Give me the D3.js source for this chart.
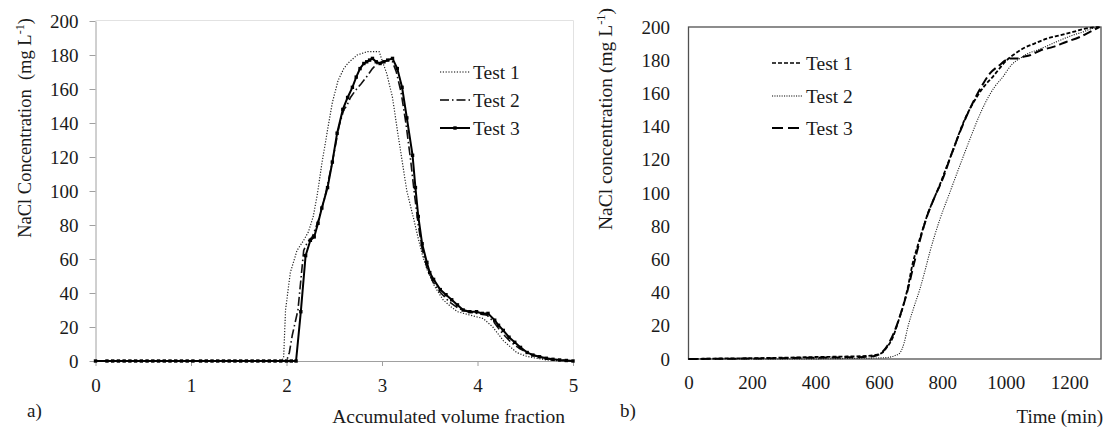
<!DOCTYPE html>
<html><head><meta charset="utf-8">
<script src="https://cdn.jsdelivr.net/npm/d3@7"></script>
<style>
body{margin:0;background:#fff;}
svg text{font-family:"Liberation Serif","Times New Roman",Tinos,"DejaVu Serif","Noto Serif",serif !important;fill:#1a1a1a;}
</style></head>
<body><svg id="c" width="1109" height="432"></svg>
<script>
const FONT = '"Liberation Serif","Times New Roman",Tinos,"DejaVu Serif",serif';
// ---------- Panel a) data ----------
const aXTicks = [0,1,2,3,4,5];
const aYTicks = [0,20,40,60,80,100,120,140,160,180,200];
const aT1x = [0,0.5,1,1.5,1.95,1.97,1.99,2.04,2.11,2.18,2.23,2.28,2.32,2.37,2.43,2.48,2.54,2.6,2.64,2.74,2.85,2.97,3.0,3.05,3.11,3.16,3.21,3.26,3.33,3.38,3.42,3.47,3.55,3.64,3.72,3.79,3.92,4.06,4.16,4.27,4.35,4.41,4.5,4.58,4.7,4.79,4.9,5.0];
const aT1y = [0,0,0,0,0,2,30,52,65,71,76,85,97,116,136,152,165,172,175,180,182,182,177,169,155,136,118,100,84,72,63,54,44,36,32,29,27,25,20,12,8,5,3,2,0.8,0.3,0,0];
const aT2x = [0,0.5,1,1.5,2.0,2.03,2.06,2.12,2.18,2.22,2.27,2.33,2.4,2.48,2.55,2.6,2.63,2.67,2.72,2.78,2.85,2.9,2.95,3.0,3.06,3.11,3.15,3.2,3.25,3.3,3.34,3.38,3.42,3.47,3.53,3.6,3.7,3.8,3.9,4.0,4.1,4.17,4.25,4.35,4.45,4.55,4.7,4.85,5.0];
const aT2y = [0,0,0,0,0,5,15,30,65,70,73,82,96,117,138,148,150,155,159,163,168,172,175,176,177,176,170,158,140,118,98,80,66,55,47,41,35,31,29,28,27,23,17,11,7,4,1.5,0.5,0];
const aT3x = [0,0.12,0.18,0.24,0.3,0.36,0.42,0.48,0.54,0.6,0.66,0.72,0.78,0.84,0.9,0.96,1.02,1.1,1.16,1.22,1.28,1.34,1.4,1.46,1.52,1.58,1.64,1.7,1.76,1.82,1.88,1.94,2.0,2.05,2.1,2.15,2.2,2.25,2.29,2.33,2.37,2.43,2.48,2.53,2.59,2.64,2.69,2.73,2.77,2.81,2.84,2.87,2.9,2.94,2.98,3.02,3.06,3.11,3.16,3.21,3.26,3.32,3.35,3.38,3.42,3.47,3.5,3.54,3.61,3.67,3.73,3.79,3.85,3.92,3.99,4.05,4.11,4.18,4.22,4.27,4.33,4.39,4.45,4.52,4.58,4.65,4.72,4.79,4.86,4.93,5.0];
const aT3y = [0,0,0,0,0,0,0,0,0,0,0,0,0,0,0,0,0,0,0,0,0,0,0,0,0,0,0,0,0,0,0,0,0,0,0,29,62,71,73,81,90,102,117,134,148,155,161,167,172,175,176,177,178,176,175,176,177,178,172,161,143,121,102,85,69,58,52,48,42,39,36,33,30,29,29,28,28,24,21,18,14,11,8,5,3.5,2.5,1.6,1,0.6,0.3,0];

// ---------- Panel b) data ----------
const bXTicks = [0,200,400,600,800,1000,1200];
const bYTicks = [0,20,40,60,80,100,120,140,160,180,200];
const bT1x = [0,100,200,300,400,500,560,590,609,625,644,660,675,690,707,722,738,755,770,790,814,838,861,885,909,935,959,980,1003,1030,1054,1090,1129,1170,1211,1250,1292];
const bT1y = [0,0.3,0.5,0.8,1.2,1.5,1.8,2.5,3.6,7,13,22,31,42,58,68,78,88,95,104,116,128,140,150,158,165,170,175,180,184,187,190,193,195,197,199,200];
const bT2x = [0,300,500,620,650,666,680,691,710,729,745,760,792,823,860,886,913,940,965,991,1017,1044,1070,1098,1135,1171,1210,1243,1270,1297];
const bT2y = [0,0,0.3,0.8,2,3.6,10,19,31,42,53,64,84,100,119,132,145,156,164,170,177,181,184,186,189,192,195,197,199,200];
const bT3x = [0,200,400,550,590,610,630,650,670,690,710,730,750,770,800,830,860,890,920,950,980,1000,1015,1035,1055,1076,1110,1149,1190,1233,1265,1295];
const bT3y = [0,0.3,0.8,1.2,2,4,9,17,28,41,57,72,85,95,108,124,139,152,163,172,177,180,181,181,182,183,186,188,191,194,197,200];

const svg = d3.select("#c");
const zip = (xs, ys) => xs.map((x,i)=>[x, ys[i]]);
const fmt = d => String(d);

// ---------- Panel a ----------
const xA = d3.scaleLinear().domain([0,5]).range([95.5,573]);
const yA = d3.scaleLinear().domain([0,200]).range([361,21]);
const gA = svg.append("g");

gA.append("path").attr("d",`M${xA(0)},20.5 H573.5 V${yA(0)}`).attr("fill","none").attr("stroke","#e2e2e2");

const axA_y = gA.append("g").attr("transform",`translate(${xA(0)},0)`)
  .call(d3.axisLeft(yA).tickValues(aYTicks).tickFormat(fmt).tickSize(6).tickPadding(11).tickSizeOuter(0));
const axA_x = gA.append("g").attr("transform",`translate(0,${yA(0)})`)
  .call(d3.axisBottom(xA).tickValues(aXTicks).tickFormat(fmt).tickSize(5).tickPadding(13).tickSizeOuter(0));
[axA_y, axA_x].forEach(a=>{
  a.attr("font-family",FONT);
  a.selectAll("path,line").attr("stroke","#a0a0a0");
  a.selectAll("text").style("font-size","19px").attr("fill","#1a1a1a");
});

const lineA = d3.line().x(d=>xA(d[0])).y(d=>yA(d[1]));
gA.append("path").datum(zip(aT1x,aT1y)).attr("d",lineA).attr("fill","none")
  .attr("stroke","#222").attr("stroke-width",1.2).attr("stroke-dasharray","1.2,1.6");
gA.append("path").datum(zip(aT2x,aT2y)).attr("d",lineA).attr("fill","none")
  .attr("stroke","#111").attr("stroke-width",1.6).attr("stroke-dasharray","9,3,1.5,3");
gA.append("path").datum(zip(aT3x,aT3y)).attr("d",lineA).attr("fill","none")
  .attr("stroke","#000").attr("stroke-width",2);
gA.selectAll("rect.m3").data(zip(aT3x,aT3y)).join("rect").attr("class","m3")
  .attr("x",d=>xA(d[0])-1.7).attr("y",d=>yA(d[1])-1.7).attr("width",3.4).attr("height",3.4).attr("fill","#000");

const legA = [{n:"Test 1",dash:"1.2,1.6",w:1.2,y:72},{n:"Test 2",dash:"9,3,1.5,3",w:1.6,y:100},{n:"Test 3",dash:null,w:2,y:128}];
legA.forEach(l=>{
  gA.append("line").attr("x1",440).attr("x2",470).attr("y1",l.y).attr("y2",l.y)
    .attr("stroke","#000").attr("stroke-width",l.w).attr("stroke-dasharray",l.dash);
  if(!l.dash) gA.append("rect").attr("x",453.3).attr("y",l.y-1.7).attr("width",3.4).attr("height",3.4).attr("fill","#000");
  gA.append("text").attr("x",473).attr("y",l.y).attr("dy","0.35em").style("font-size","19.5px").text(l.n);
});

gA.append("text").attr("x",565).attr("y",423).attr("text-anchor","end").style("font-size","19.5px").text("Accumulated volume fraction");
gA.append("text").attr("x",27).attr("y",417).style("font-size","19px").text("a)");
const tA = gA.append("text").attr("transform","translate(25,128) rotate(-90)").attr("text-anchor","middle")
  .attr("dy","0.35em").style("font-size","18.5px").style("white-space","pre");
tA.append("tspan").text("NaCl Concentration  (mg L");
tA.append("tspan").attr("dy",-7).style("font-size","12px").text("-1");
tA.append("tspan").attr("dy",7).text(")");

// ---------- Panel b ----------
const xB = d3.scaleLinear().domain([0,1300]).range([688.5,1101]);
const yB = d3.scaleLinear().domain([0,200]).range([359,27]);
const gB = svg.append("g");

const axB_y = gB.append("g").attr("transform",`translate(${xB(0)},0)`)
  .call(d3.axisLeft(yB).tickValues(bYTicks).tickFormat(fmt).tickSize(0).tickPadding(18.5));
const axB_x = gB.append("g").attr("transform",`translate(0,${yB(0)})`)
  .call(d3.axisBottom(xB).tickValues(bXTicks).tickFormat(fmt).tickSize(0).tickPadding(17));
[axB_y, axB_x].forEach(a=>{
  a.attr("font-family",FONT);
  a.select(".domain").remove();
  a.selectAll("text").style("font-size","19px").attr("fill","#1a1a1a");
});
gB.append("rect").attr("x",xB(0)).attr("y",yB(200)).attr("width",xB(1300)-xB(0)).attr("height",yB(0)-yB(200))
  .attr("fill","none").attr("stroke","#505050").attr("stroke-width",1.3);

const lineB = d3.line().x(d=>xB(d[0])).y(d=>yB(d[1])).curve(d3.curveMonotoneX);
gB.append("path").datum(zip(bT2x,bT2y)).attr("d",lineB).attr("fill","none")
  .attr("stroke","#222").attr("stroke-width",1.1).attr("stroke-dasharray","1.1,1.3");
gB.append("path").datum(zip(bT1x,bT1y)).attr("d",lineB).attr("fill","none")
  .attr("stroke","#000").attr("stroke-width",1.8).attr("stroke-dasharray","4,2");
gB.append("path").datum(zip(bT3x,bT3y)).attr("d",lineB).attr("fill","none")
  .attr("stroke","#000").attr("stroke-width",2).attr("stroke-dasharray","9,4");

const legB = [{n:"Test 1",dash:"4,2",w:1.6,y:63},{n:"Test 2",dash:"1.1,1.3",w:1.1,y:96},{n:"Test 3",dash:"11,5",w:2,y:128}];
legB.forEach(l=>{
  gB.append("line").attr("x1",772).attr("x2",802).attr("y1",l.y).attr("y2",l.y)
    .attr("stroke","#000").attr("stroke-width",l.w).attr("stroke-dasharray",l.dash);
  gB.append("text").attr("x",806).attr("y",l.y).attr("dy","0.35em").style("font-size","19.5px").text(l.n);
});

gB.append("text").attr("x",1103).attr("y",423).attr("text-anchor","end").style("font-size","19px").text("Time (min)");
gB.append("text").attr("x",620).attr("y",417).style("font-size","19px").text("b)");
const tB = gB.append("text").attr("transform","translate(605,119) rotate(-90)").attr("text-anchor","middle")
  .attr("dy","0.35em").style("font-size","19.5px").style("white-space","pre");
tB.append("tspan").text("NaCl concentration (mg L");
tB.append("tspan").attr("dy",-7).style("font-size","12.5px").text("-1");
tB.append("tspan").attr("dy",7).text(")");
</script></body></html>
